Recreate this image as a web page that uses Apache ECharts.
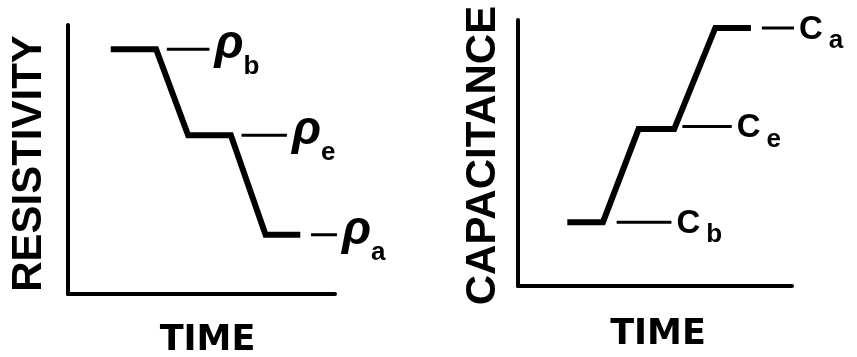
<!DOCTYPE html>
<html>
<head>
<meta charset="utf-8">
<script src="https://cdn.jsdelivr.net/npm/echarts@6/dist/echarts.min.js"></script>
<style>
  html, body { margin: 0; padding: 0; background: #fff; }
  #chart { width: 857px; height: 357px; }
</style>
</head>
<body>
<div id="chart"></div>
<script>
// step curves, time in arbitrary units 0..100
const resTime = [16, 33, 45, 61, 74, 87]
const resValue = [91, 91, 59, 59, 22, 22]
const capTime = [18, 31, 44, 57, 72, 85]
const capValue = [24, 24, 59, 59, 97, 97]

// level markers (dash + label)
const resLabels = ['b', 'e', 'a']
const resLevels = [91, 59, 22]
const resDashStart = [37, 65, 91]
const resDashEnd = [53, 82, 104]

const capLabels = ['b', 'e', 'a']
const capLevels = [24, 60, 97]
const capDashStart = [36, 60, 89]
const capDashEnd = [56, 78, 101]

const chart = echarts.init(document.getElementById('chart'))

const black = '#000'

function axisX(idx, gap, shift) {
    return {
        type: 'value', gridIndex: idx, min: 0, max: 100,
        axisLine: { show: true, lineStyle: { color: black, width: 4 } },
        axisTick: { show: false }, axisLabel: { show: false }, splitLine: { show: false },
        name: 'TIME', nameLocation: 'middle', nameGap: gap,
        nameTextStyle: { fontFamily: 'DejaVu Sans', fontWeight: 'bold', fontSize: 35, color: black, padding: [0, 0, 0, shift] }
    }
}

function axisY(idx, name, gap, size, shift) {
    return {
        type: 'value', gridIndex: idx, min: 0, max: 100,
        axisLine: { show: true, lineStyle: { color: black, width: 4 } },
        axisTick: { show: false }, axisLabel: { show: false }, splitLine: { show: false },
        name: name, nameLocation: 'middle', nameRotate: 90, nameGap: gap,
        nameTextStyle: { fontFamily: 'Liberation Sans', fontWeight: 'bold', fontSize: size, color: black, padding: [0, shift, 0, 0] }
    }
}

function stepSeries(idx, xs, ys) {
    return {
        type: 'line', xAxisIndex: idx, yAxisIndex: idx,
        data: xs.map((x, i) => [x, ys[i]]),
        symbol: 'none', clip: false,
        lineStyle: { color: black, width: 6, join: 'miter' }
    }
}

const rhoRich = {
    main: { fontFamily: 'Liberation Sans', fontStyle: 'italic', fontWeight: 'bold', fontSize: 48, color: black, padding: [0, 0, 9, 0] },
    sub: { fontFamily: 'Liberation Sans', fontWeight: 'bold', fontSize: 26, color: black, padding: [36, 0, 0, 0] }
}
const capRich = {
    main: { fontFamily: 'Liberation Sans', fontWeight: 'bold', fontSize: 33, color: black, padding: [4, 0, 0, 0] },
    sub: { fontFamily: 'Liberation Sans', fontWeight: 'bold', fontSize: 26, color: black, padding: [26, 0, 0, 6] }
}

function dashSeries(idx, starts, ends, levels, subs, letter, rich) {
    return starts.map((x0, i) => ({
        type: 'line', xAxisIndex: idx, yAxisIndex: idx,
        data: [[x0, levels[i]], [ends[i], levels[i]]],
        symbol: 'none', clip: false,
        lineStyle: { color: black, width: 3 },
        endLabel: {
            show: true, distance: 5,
            formatter: '{main|' + letter + '}{sub|' + subs[i] + '}',
            rich: rich
        }
    }))
}

const option = {
    animation: false,
    backgroundColor: '#fff',
    grid: [
        { left: 68, top: 25, width: 267, height: 269, outerBoundsMode: 'none' },
        { left: 518, top: 20, width: 274, height: 266, outerBoundsMode: 'none' }
    ],
    xAxis: [axisX(0, 29, 12), axisX(1, 31, 6)],
    yAxis: [axisY(0, 'RESISTIVITY', 18, 42, 8), axisY(1, 'CAPACITANCE', 14, 42, 5)],
    series: [
        stepSeries(0, resTime, resValue),
        stepSeries(1, capTime, capValue),
        ...dashSeries(0, resDashStart, resDashEnd, resLevels, resLabels, 'ρ', rhoRich),
        ...dashSeries(1, capDashStart, capDashEnd, capLevels, capLabels, 'C', capRich)
    ]
}

chart.setOption(option)
</script>
</body>
</html>
